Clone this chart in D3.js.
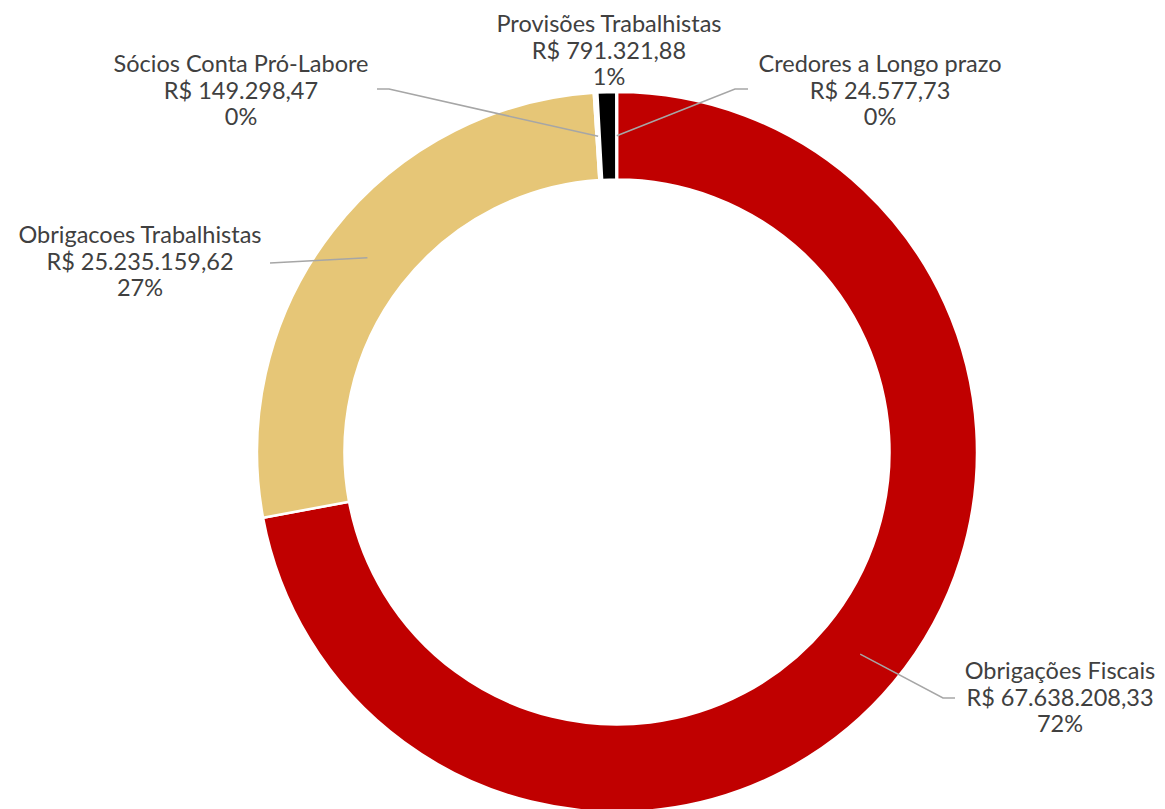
<!DOCTYPE html>
<html>
<head>
<meta charset="utf-8">
<script src="https://cdn.jsdelivr.net/npm/d3@7"></script>
<style>
  body { margin: 0; background: #fff; }
  svg text { font-family: Lato, "Noto Sans", sans-serif; fill: #404040; }
</style>
</head>
<body>
<div id="chart"></div>
<script>
let width = 1165;
let height = 809;

const categories = [
  "Obrigações Fiscais",
  "Obrigacoes Trabalhistas",
  "Sócios Conta Pró-Labore",
  "Provisões Trabalhistas",
  "Credores a Longo prazo"
];
const values = [67638208.33, 25235159.62, 149298.47, 791321.88, 24577.73];
const colors = ["#C00000", "#E6C677", "#FFFFFF", "#000000", "#FFFFFF"];

// label placement (center x, first baseline y, and leader elbow if any)
const labelLayout = [
  { x: 1060, y: 679, line: [[955, 698], [943, 698]] },
  { x: 140, y: 243, line: [[270, 263]] },
  { x: 241, y: 72, line: [[377, 89], [389, 89]] },
  { x: 609, y: 32, line: null },
  { x: 880, y: 72, line: [[748, 89], [735, 89]] }
];

const cx = 617, cy = 452;
const outerR = 360, innerR = 272.5;

const ptBR = d3.formatLocale({
  decimal: ",",
  thousands: ".",
  grouping: [3],
  currency: ["R$ ", ""]
});
const money = ptBR.format("$,.2f");
const total = d3.sum(values);

const data = categories.map((c, i) => ({ name: c, value: values[i], color: colors[i], layout: labelLayout[i] }));

const svg = d3.select("#chart")
  .append("svg")
  .attr("width", width)
  .attr("height", height);

const pie = d3.pie().sort(null).value((d) => d.value);
const arcs = pie(data);

const arc = d3.arc().innerRadius(innerR).outerRadius(outerR);

const g = svg.append("g").attr("transform", `translate(${cx},${cy})`);

g.selectAll("path.slice")
  .data(arcs)
  .enter()
  .append("path")
  .attr("class", "slice")
  .attr("d", arc)
  .attr("fill", (d) => d.data.color)
  .attr("stroke", "#fff")
  .attr("stroke-width", 2.5);

// leader lines
const midR = (innerR + outerR) / 2;
arcs.forEach((a) => {
  const lay = a.data.layout;
  if (!lay.line) return;
  const mid = (a.startAngle + a.endAngle) / 2;
  const anchor = [cx + midR * Math.sin(mid), cy - midR * Math.cos(mid)];
  const pts = lay.line.concat([anchor]);
  svg.append("path")
    .attr("d", d3.line()(pts))
    .attr("fill", "none")
    .attr("stroke", "#A6A6A6")
    .attr("stroke-width", 1.5);
});

// labels
arcs.forEach((a) => {
  const lay = a.data.layout;
  const pct = Math.round((a.data.value / total) * 100) + "%";
  const t = svg.append("text")
    .attr("text-anchor", "middle")
    .attr("font-size", 23.5);
  [a.data.name, money(a.data.value), pct].forEach((s, i) => {
    t.append("tspan")
      .attr("x", lay.x)
      .attr("y", lay.y + i * 26.5)
      .text(s);
  });
});
</script>
</body>
</html>
